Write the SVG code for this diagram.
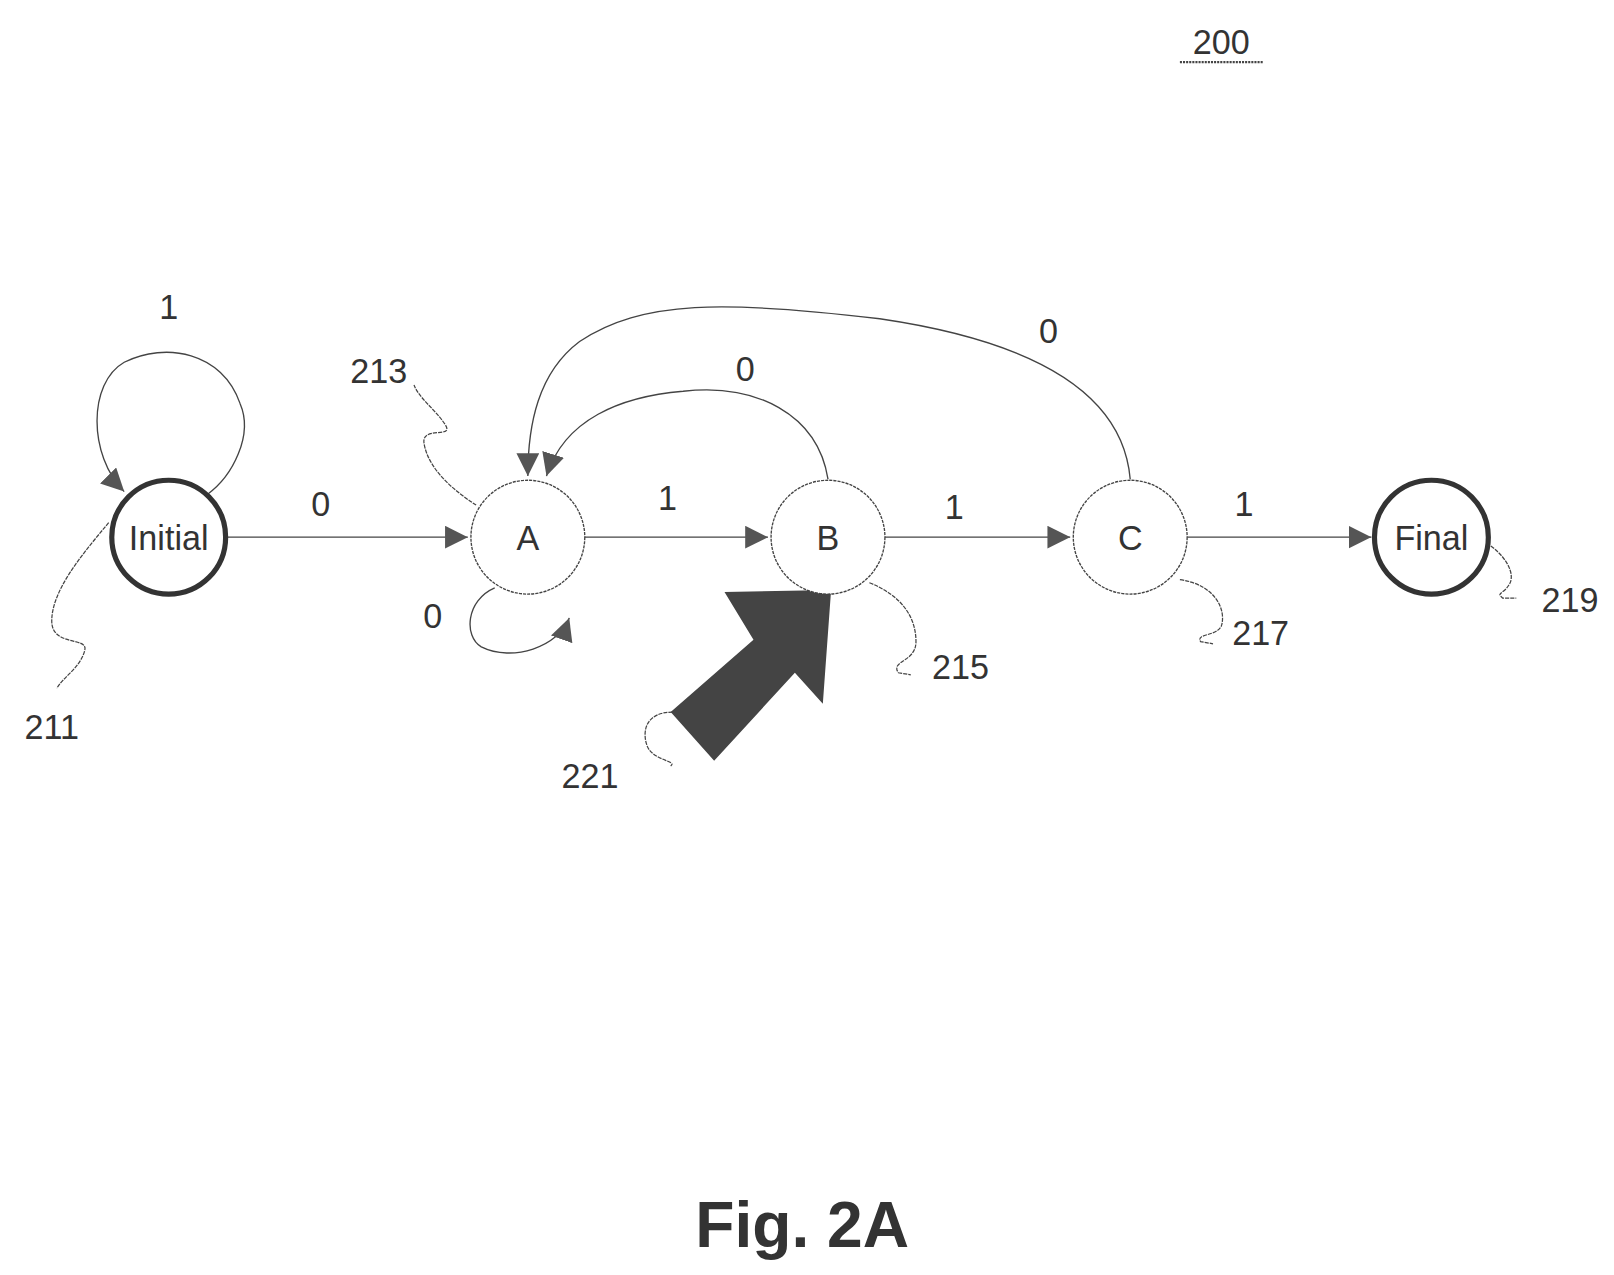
<svg xmlns="http://www.w3.org/2000/svg" width="1614" height="1275" viewBox="0 0 1614 1275">
<style>
.n{fill:#fff;stroke:#444;stroke-width:1.3;stroke-dasharray:3 1}
.t{fill:#fff;stroke:#333;stroke-width:5}
.e{fill:none;stroke:#444;stroke-width:1.3}
.l{fill:none;stroke:#444;stroke-width:1.2;stroke-dasharray:4 1}
text{font-family:"Liberation Sans",Arial,sans-serif;font-size:33px;fill:#333;text-anchor:middle}
</style>
<defs>
<marker id="ah" viewBox="0 0 10 10" refX="10" refY="5" markerWidth="22" markerHeight="22" markerUnits="userSpaceOnUse" orient="auto">
<path d="M0,0L10,5L0,10Z" fill="#555"/>
</marker>
</defs>
<rect width="1614" height="1275" fill="#fff"/>
<g transform="scale(1.035)">
<g id="connectors">
<path class="e" d="M218,519H452" marker-end="url(#ah)"/>
<path class="e" d="M565,519H742" marker-end="url(#ah)"/>
<path class="e" d="M855,519H1034" marker-end="url(#ah)"/>
<path class="e" d="M1147,519H1325" marker-end="url(#ah)"/>
<path class="e" d="M200,478C225,460 245,420 232,390C215,340 160,330 120,350C85,370 85,440 120,475" marker-end="url(#ah)"/>
<path class="e" d="M478,568C450,580 448,615 465,625C495,640 540,625 550,597" marker-end="url(#ah)"/>
<path class="e" d="M800,463C790,400 730,370 660,378C600,383 545,405 528,460" marker-end="url(#ah)"/>
<path class="e" d="M1092,463C1085,380 1000,330 850,308C700,290 620,290 560,330C520,360 510,410 510,460" marker-end="url(#ah)"/>
<path class="l" d="M105,505C80,535 50,570 50,600C50,625 85,615 82,628C78,645 60,655 55,665"/>
<path class="l" d="M460,488C440,475 415,455 410,430C405,410 440,425 430,410C420,395 405,385 400,372"/>
<path class="l" d="M840,563C870,575 885,595 885,620C885,640 860,638 868,650L880,652"/>
<path class="l" d="M1140,560C1175,565 1185,590 1180,605C1175,615 1155,612 1160,620L1172,622"/>
<path class="l" d="M1432,522C1455,535 1465,555 1458,565C1452,575 1445,572 1452,578L1465,578"/>
<path class="l" d="M650,688C625,688 620,705 625,720C630,735 655,735 648,740"/>
</g>
<g id="arrow221"><polygon points="648,688 728,618 700,572 803,570 795,680 768,650 690,735" fill="#444"/></g>
<g id="initial"><circle class="t" cx="163" cy="519" r="55"/><text x="163" y="531">Initial</text></g>
<g id="A"><circle class="n" cx="510" cy="519" r="55"/><text x="510" y="531">A</text></g>
<g id="B"><circle class="n" cx="800" cy="519" r="55"/><text x="800" y="531">B</text></g>
<g id="C"><circle class="n" cx="1092" cy="519" r="55"/><text x="1092" y="531">C</text></g>
<g id="final"><circle class="t" cx="1383" cy="519" r="55"/><text x="1383" y="531">Final</text></g>
<g id="labels">
<text x="1180" y="52">200</text>
<line x1="1140" y1="60" x2="1221" y2="60" stroke="#444" stroke-width="2" stroke-dasharray="2 1"/>
<text x="163" y="308">1</text>
<text x="310" y="499">0</text>
<text x="366" y="370">213</text>
<text x="720" y="368">0</text>
<text x="1013" y="331">0</text>
<text x="645" y="493">1</text>
<text x="922" y="501">1</text>
<text x="1202" y="499">1</text>
<text x="418" y="607">0</text>
<text x="50" y="714">211</text>
<text x="570" y="761">221</text>
<text x="928" y="656">215</text>
<text x="1218" y="623">217</text>
<text x="1517" y="591">219</text>
<text x="775" y="1205" style="font-size:62px;font-weight:bold">Fig. 2A</text>
</g>
</g>
</svg>
